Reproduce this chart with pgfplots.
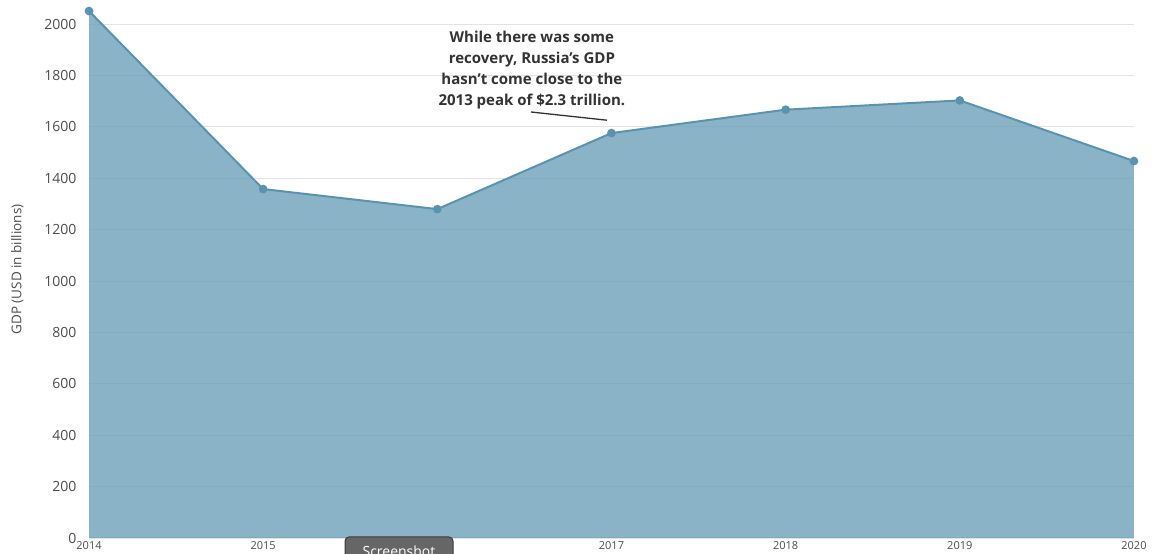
\documentclass[border=0pt]{standalone}
\usepackage{pgfplots}
\pgfplotsset{compat=1.18}
\usepackage{fontspec}
\setmainfont{Open Sans}
\definecolor{fillc}{HTML}{639AB6}
\definecolor{linec}{HTML}{5A93B0}
\definecolor{gridc}{HTML}{E3E3E3}
\definecolor{axisc}{HTML}{CCD6EB}
\definecolor{labc}{HTML}{4D4D4D}
\definecolor{annc}{HTML}{333333}
\definecolor{btnc}{HTML}{666666}
\definecolor{btnb}{HTML}{3A3A3A}
\begin{document}
\begin{tikzpicture}[x=1pt,y=1pt]
\useasboundingbox (0,0) rectangle (1154,554);
\begin{axis}[
  at={(89pt,16pt)}, anchor=south west,
  scale only axis, width=1045pt, height=537pt,
  xmin=2014, xmax=2020, ymin=0, ymax=2090,
  axis x line*=bottom, axis y line*=left,
  x axis line style={draw=axisc, line width=1pt},
  y axis line style={draw=none},
  ytick={0,200,...,2000},
  xtick={2014,2015,2017,2018,2019,2020},
  ymajorgrids, grid style={draw=gridc, line width=0.9pt},
  major tick length=0pt,
  /pgf/number format/assume math mode=true,
  xticklabel style={font=\fontsize{11}{13}\selectfont, text=labc, /pgf/number format/1000 sep={}},
  yticklabel style={font=\fontsize{14}{16}\selectfont, text=labc, xshift=-9pt, /pgf/number format/1000 sep={}},
  ylabel={GDP (USD in billions)},
  ylabel style={font=\fontsize{13.5}{15}\selectfont, text=labc, yshift=14pt},
  clip=false,
]
\addplot[fill=fillc, fill opacity=0.75, draw=none] coordinates {
(2014,2051) (2015,1358) (2016,1280) (2017,1576) (2018,1667) (2019,1703) (2020,1467)
} \closedcycle;
\addplot[linec, line width=2pt, mark=*, mark size=3.3pt, mark options={fill=linec, draw=linec}] coordinates {
(2014,2051) (2015,1358) (2016,1280) (2017,1576) (2018,1667) (2019,1703) (2020,1467)
};
\node[align=center, font=\bfseries\fontsize{15}{21.3}\selectfont, text=annc] at (axis cs:2016.543,1821) {While there was some\\recovery, Russia's GDP\\hasn't come close to the\\2013 peak of \$2.3 trillion.};
\draw[annc, line width=1.3pt] (axis cs:2016.538,1658) -- (axis cs:2016.974,1626);
\end{axis}
\draw[fill=btnc, draw=btnb, line width=1pt, rounded corners=4pt] (345,17) rectangle (453,-20);
\node[anchor=base, text=white, font=\fontsize{14}{16}\selectfont] at (399,-2.5) {Screenshot};
\end{tikzpicture}
\end{document}
